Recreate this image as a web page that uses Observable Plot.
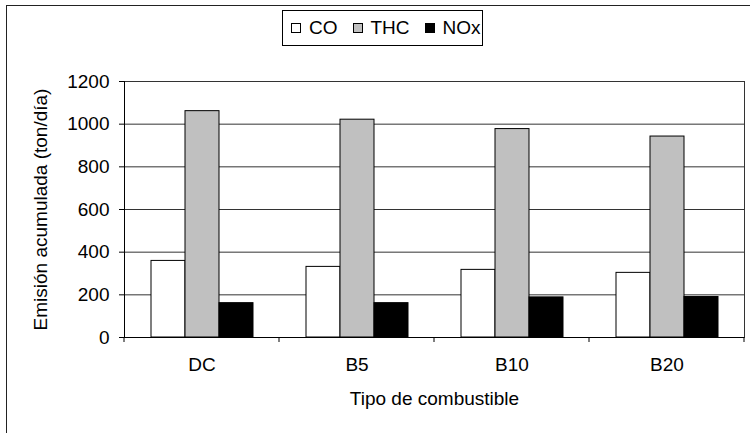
<!DOCTYPE html>
<html>
<head>
<meta charset="utf-8">
<script src="https://cdn.jsdelivr.net/npm/d3@7"></script>
<script src="https://cdn.jsdelivr.net/npm/@observablehq/plot@0.6"></script>
<style>
  body { margin: 0; background: #fff; }
  #wrap { position: relative; width: 750px; height: 433px; overflow: hidden; background: #fff;
          font-family: "Liberation Sans", Arial, sans-serif; }
  #outer { position: absolute; left: 6px; top: 5px; width: 900px; height: 600px;
           border-left: 1.5px solid #222; border-top: 1.5px solid #222; pointer-events: none; }
  #legend { position: absolute; left: 282px; top: 10px; width: 201px; height: 36px; box-sizing: border-box;
            border: 1px solid #000; background: #fff; display: flex; align-items: center; justify-content: flex-start;
            padding-left: 8px; font-size: 19px; color: #000; }
  .item { display: flex; align-items: center; margin-right: 15px; }
  .item:last-child { margin-right: 0; }
  .sw { width: 8px; height: 8px; border: 1px solid #000; margin-right: 8px; }
  #chart { position: absolute; left: 0; top: 0; }
</style>
</head>
<body>
<div id="wrap">
  <div id="chart"></div>
  <div id="outer"></div>
  <div id="legend"></div>
</div>
<script>
const fuels = ["DC", "B5", "B10", "B20"];
const pollutants = ["CO", "THC", "NOx"];
const coValues = [359, 331, 317, 303];
const thcValues = [1061, 1021, 977, 942];
const noxValues = [161, 161, 188, 190];
const pollutantColors = ["#ffffff", "#c0c0c0", "#000000"];
const yTicks = [0, 200, 400, 600, 800, 1000, 1200];
const xTitle = "Tipo de combustible";
const yTitle = "Emisión acumulada (ton/día)";

const series = [coValues, thcValues, noxValues];
const rows = [];
fuels.forEach((f, i) => pollutants.forEach((p, j) => rows.push({fuel: f, pollutant: p, value: series[j][i]})));

const font = '"Liberation Sans", Arial, sans-serif';

const plot = Plot.plot({
  width: 750,
  height: 433,
  marginLeft: 122,
  marginRight: 5,
  marginTop: 81,
  marginBottom: 96,
  style: {fontFamily: font, fontSize: "19px", color: "#000", background: "transparent", overflow: "visible"},
  fx: {domain: fuels, padding: 0, label: null},
  x: {domain: pollutants, paddingInner: 0, paddingOuter: 0.744, axis: null},
  y: {domain: [0, 1200]},
  color: {domain: pollutants, range: pollutantColors},
  marks: [
    Plot.gridY(yTicks.slice(1), {stroke: "#333", strokeOpacity: 1, strokeWidth: 1}),
    Plot.barY(rows, {fx: "fuel", x: "pollutant", y: "value", fill: "pollutant", stroke: "#000", strokeWidth: 1}),
    Plot.ruleY([0], {stroke: "#000", strokeWidth: 1}),
    Plot.frame({anchor: "left", facetAnchor: "left", stroke: "#000", strokeWidth: 1}),
    Plot.frame({anchor: "right", facetAnchor: "right", stroke: "#333", strokeWidth: 1}),
    Plot.axisY(yTicks, {tickSize: 5, tickPadding: 10, stroke: "#000", fill: "#000", tickFormat: d => String(d),
      label: yTitle, labelArrow: "none", labelAnchor: "center", labelOffset: 91, fontSize: 19}),
    Plot.axisFx({anchor: "bottom", tickSize: 0, tickPadding: 20, fill: "#000",
      label: xTitle, labelArrow: "none", labelAnchor: "center", labelOffset: 67, fontSize: 19})
  ]
});
document.getElementById("chart").appendChild(plot);

// category boundary tick marks on the x baseline, placed with the plot's own scales
const fxs = plot.scale("fx"), ys = plot.scale("y");
const y0 = ys.apply(0);
const bounds = fuels.map(f => fxs.apply(f));
bounds.push(fxs.apply(fuels[fuels.length - 1]) + fxs.bandwidth);
d3.select(plot).append("g")
  .selectAll("line").data(bounds).join("line")
  .attr("x1", d => d).attr("x2", d => d)
  .attr("y1", y0).attr("y2", y0 + 5)
  .attr("stroke", "#000").attr("stroke-width", 1);

// legend
const legend = document.getElementById("legend");
pollutants.forEach((p, i) => {
  const it = document.createElement("div");
  it.className = "item";
  const sw = document.createElement("div");
  sw.className = "sw";
  sw.style.background = pollutantColors[i];
  const t = document.createElement("span");
  t.textContent = p;
  it.appendChild(sw); it.appendChild(t);
  legend.appendChild(it);
});
</script>
</body>
</html>
